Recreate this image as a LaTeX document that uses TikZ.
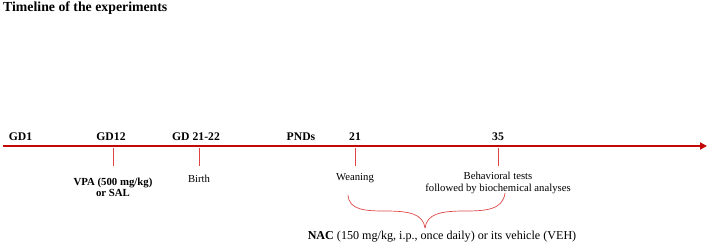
\documentclass[tikz,border=0pt]{standalone}
\usepackage{fontspec}
\setmainfont{Liberation Serif}
\usetikzlibrary{arrows.meta}
\definecolor{axisred}{RGB}{196,8,8}
\definecolor{tickred}{RGB}{222,70,70}

\begin{document}
\begin{tikzpicture}[
    x=1pt,y=-1pt,
    title/.style={anchor=base west,inner sep=0pt,font=\fontsize{13.8}{15}\selectfont\bfseries},
    stage/.style={anchor=base,inner sep=0pt,font=\fontsize{11.7}{13}\selectfont\bfseries},
    event/.style={anchor=base,inner sep=0pt,align=center,font=\fontsize{10.7}{12}\selectfont},
    axis/.style={-{Triangle[length=7pt,width=7pt]},line width=2.6pt,draw=axisred},
    tick/.style={draw=tickred,line width=0.7pt},
    brace/.style={draw=tickred,line width=0.7pt}
  ]
    \useasboundingbox (0,0) rectangle (708,245);
    \node[title] (ttl) at (3,12) {Timeline of the experiments};
    % time axis
    \coordinate (axs) at (3,146);
    \coordinate (axe) at (707,146);
    \draw[axis] (axs) -- (axe);
    % stages above the axis
    \node[stage] (gd1) at (20.5,141) {GD1};
    \node[stage] (gd12) at (111,141) {GD12};
    \node[stage] (gd21) at (196,141) {GD 21-22};
    \node[stage] (pnds) at (301,141) {PNDs};
    \node[stage] (pnd21) at (355,141) {21};
    \node[stage] (pnd35) at (498,141) {35};
    % events below the axis
    \node[event,font=\fontsize{10.8}{11}\selectfont\bfseries] (vpa) at (113,197) {VPA (500 mg/kg)\\or SAL};
    \node[event] (birth) at (199,183) {Birth};
    \node[event] (wean) at (355,181) {Weaning};
    \node[event] (behav) at (498,192) {Behavioral tests\\followed by biochemical analyses};
    \foreach \name/\x in {vpa/113,birth/199,wean/355,behav/498}{
      \coordinate (\name top) at (\x,148);
      \coordinate (\name end) at (\x,166);
      \draw[tick] (\name top) -- (\name end);
    }
    % treatment brace
    \coordinate (brl) at (348,195);
    \coordinate (brr) at (505,193);
    \coordinate (brm) at (425,228);
    \draw[brace] (brl) .. controls (349,210) and (365,211) .. (385,211)
      .. controls (410,211) and (423,214) .. (brm);
    \draw[brace] (brr) .. controls (503,210) and (485,211) .. (465,211)
      .. controls (440,211) and (427,214) .. (brm);
    \node[anchor=base,inner sep=0pt,font=\fontsize{12.1}{13}\selectfont] (nac) at (442,240)
      {\textbf{NAC} (150 mg/kg, i.p., once daily) or its vehicle (VEH)};
\end{tikzpicture}
\end{document}
